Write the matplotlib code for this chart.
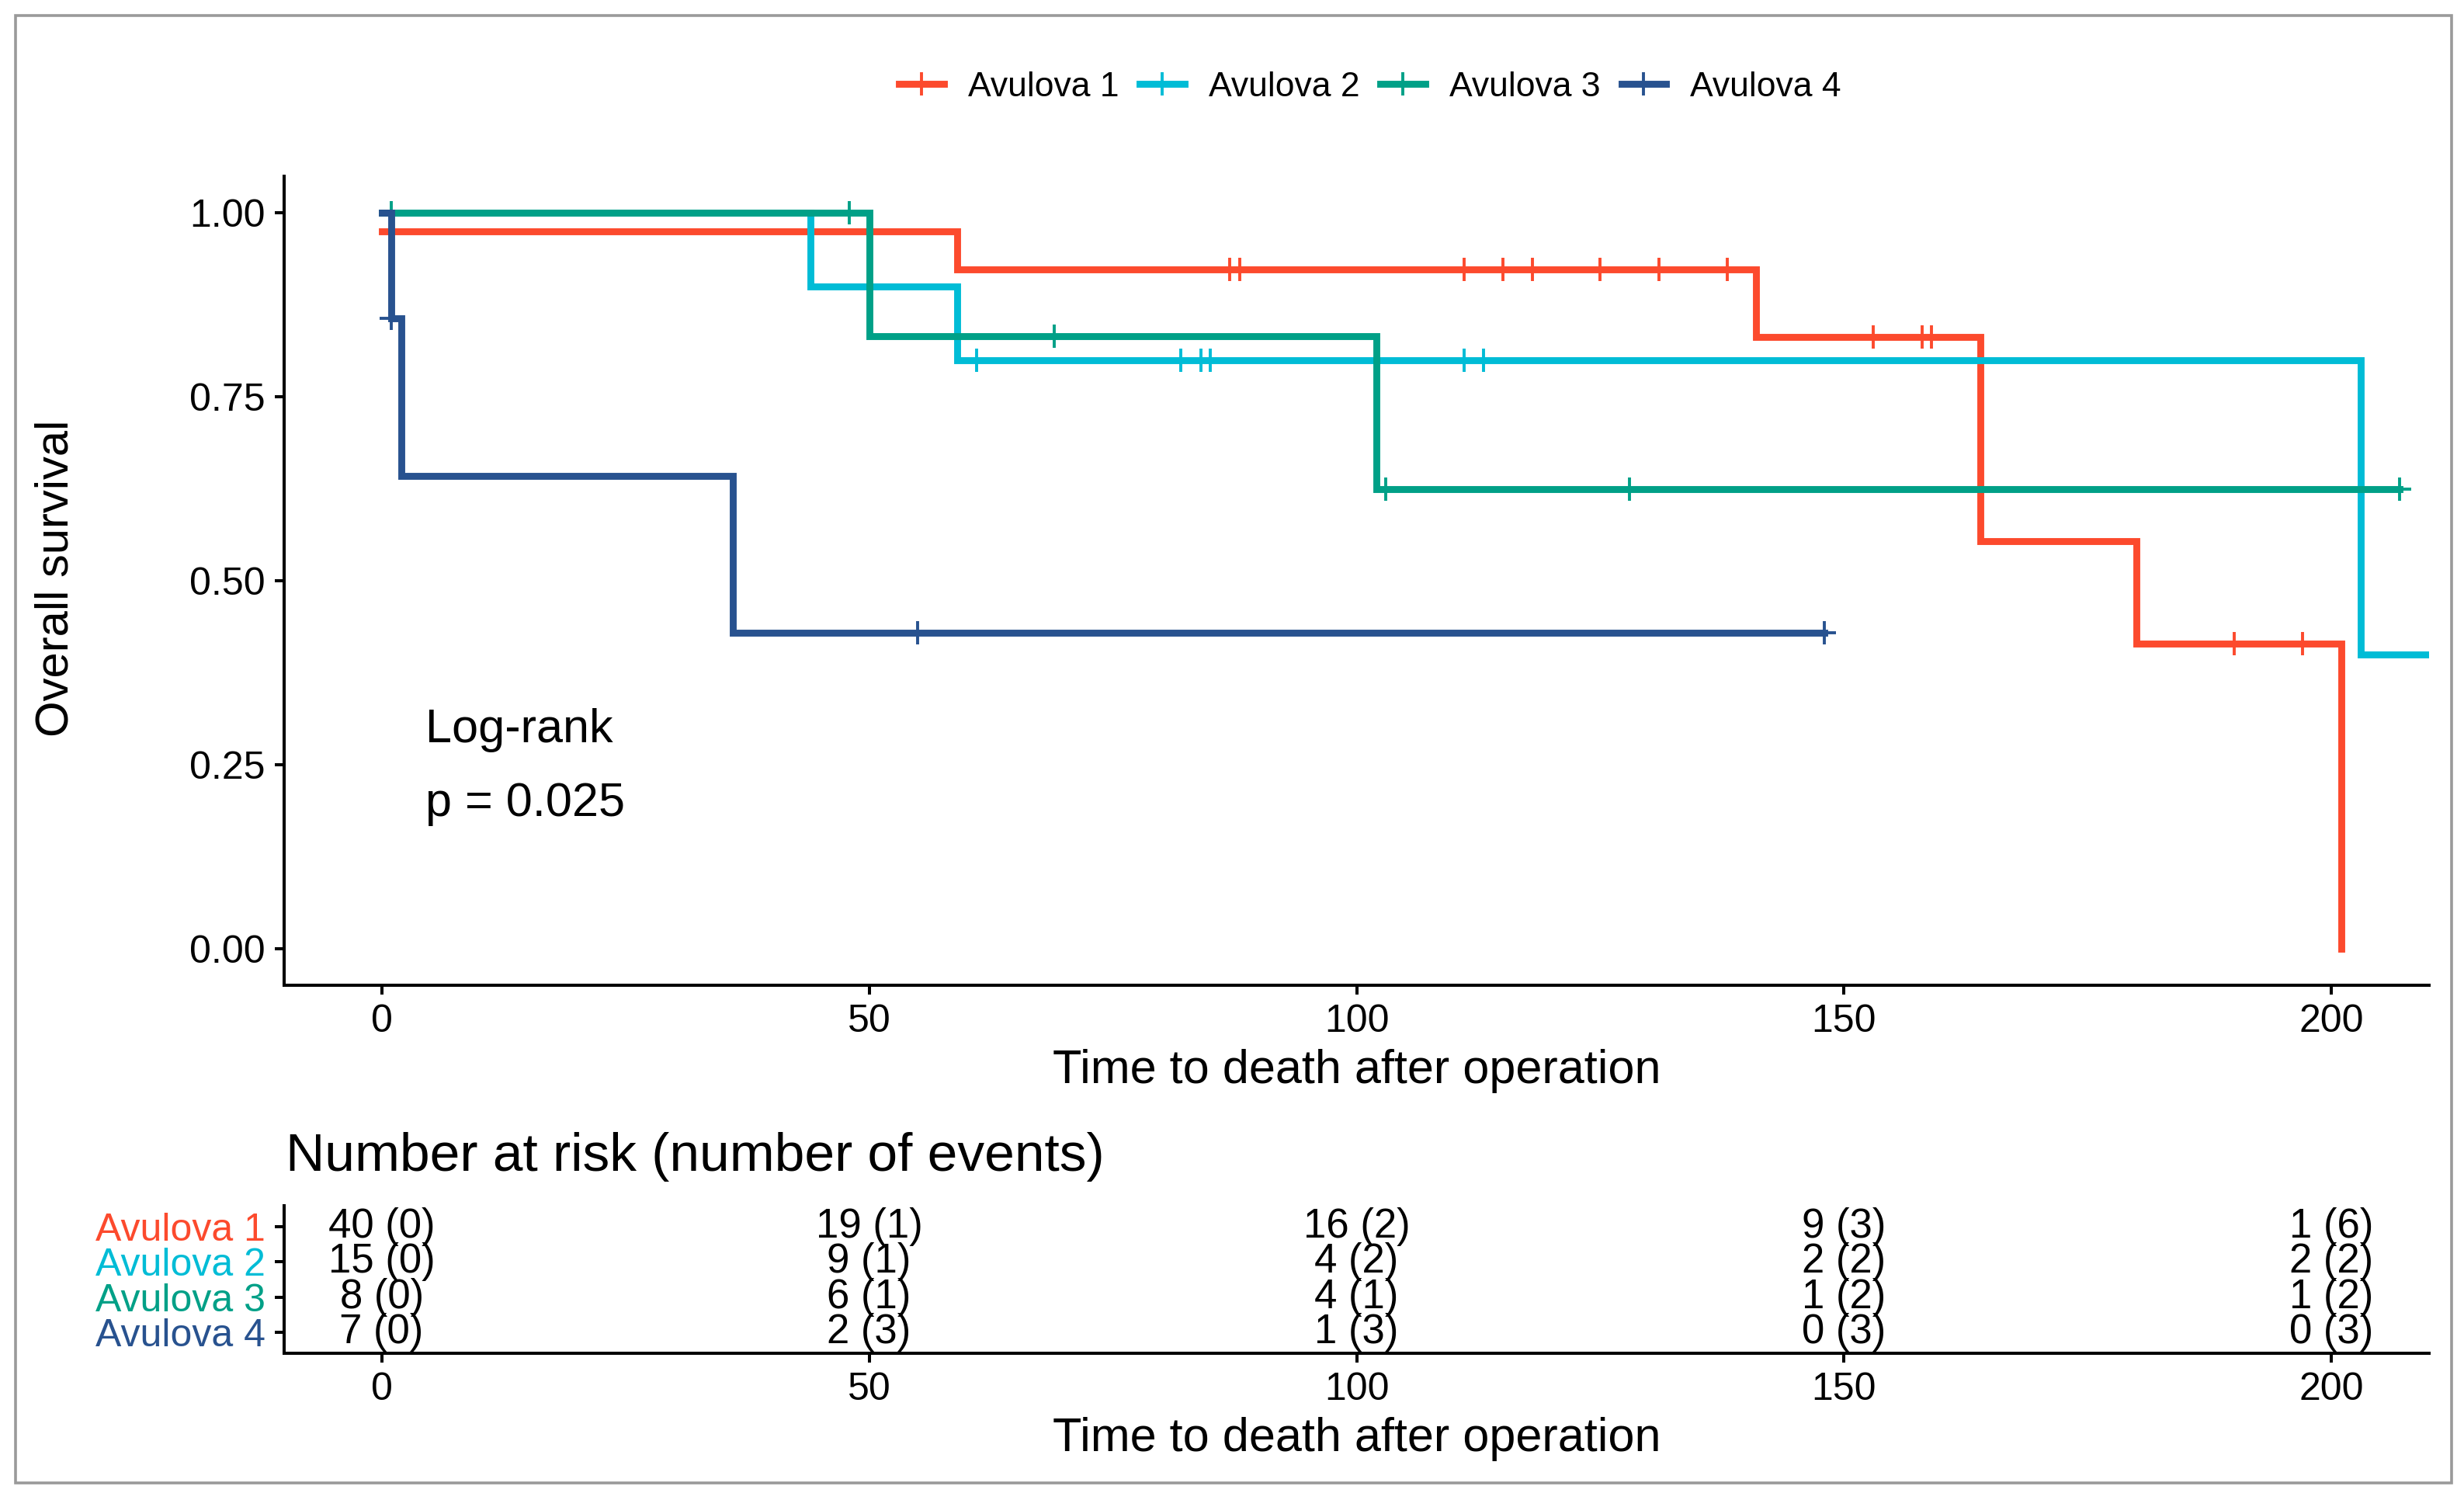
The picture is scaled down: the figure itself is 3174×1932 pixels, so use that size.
"""
Kaplan-Meier survival curves by Avulova group, with number-at-risk table
"""
import numpy as np
import matplotlib
matplotlib.use('Agg')
import matplotlib.pyplot as plt
from matplotlib.lines import Line2D
from matplotlib.patches import Rectangle

plt.rcParams['font.family'] = ['Liberation Sans', 'DejaVu Sans']

groups = ['Avulova 1', 'Avulova 2', 'Avulova 3', 'Avulova 4']
colors = ['#FC4A2D', '#00BCD6', '#00A087', '#28528F']

# step curves: time of each step, survival from that time on (last = end of follow-up)
a1_time = [0, 59, 141, 164, 180, 201]
a1_surv = [0.975, 0.923, 0.831, 0.554, 0.415, 0.0]
a1_cens = [1, 87, 88, 111, 115, 118, 125, 131, 138, 153, 158, 159, 190, 197]

a2_time = [0, 44, 59, 203, 211]
a2_surv = [1.0, 0.9, 0.8, 0.4, 0.4]
a2_cens = [61, 82, 84, 85, 111, 113]

a3_time = [0, 50, 102, 207]
a3_surv = [1.0, 0.833, 0.625, 0.625]
a3_cens = [1, 48, 69, 103, 128, 207]

a4_time = [0, 1, 2, 36, 148]
a4_surv = [1.0, 0.857, 0.643, 0.429, 0.429]
a4_cens = [1, 55, 148]

# number at risk (number of events)
risk_times = [0, 50, 100, 150, 200]
a1_atrisk = [40, 19, 16, 9, 1]
a1_events = [0, 1, 2, 3, 6]
a2_atrisk = [15, 9, 4, 2, 2]
a2_events = [0, 1, 2, 2, 2]
a3_atrisk = [8, 6, 4, 1, 1]
a3_events = [0, 1, 1, 2, 2]
a4_atrisk = [7, 2, 1, 0, 0]
a4_events = [0, 3, 3, 3, 3]

pval_text = 'p = 0.025'

curves = [(a1_time, a1_surv, a1_cens), (a2_time, a2_surv, a2_cens),
          (a3_time, a3_surv, a3_cens), (a4_time, a4_surv, a4_cens)]
risk = [(a1_atrisk, a1_events), (a2_atrisk, a2_events),
        (a3_atrisk, a3_events), (a4_atrisk, a4_events)]

W, H = 3174, 1932
fig = plt.figure(figsize=(W / 200, H / 200), dpi=200)

def fx(px):
    return px / W

def fy(px):
    return 1 - px / H

LW = 3.2
AX_LW = 1.45
TICK = 18

ax = fig.add_axes([fx(366), fy(1269), fx(3129) - fx(366), fy(227) - fy(1269)])
for (t, s, c), col in zip(curves, colors):
    t = np.array(t, dtype=float)
    s = np.array(s, dtype=float)
    ax.step(t, s, where='post', color=col, lw=LW, solid_joinstyle='miter')
    idx = np.searchsorted(t, c, side='right') - 1
    ax.plot(c, s[idx], linestyle='none', marker='+', ms=11, mew=1.4, color=col)

ax.set_xlim(-10, 210)
ax.set_ylim(-0.05, 1.05)
ax.set_xticks(risk_times)
ax.set_yticks([0, 0.25, 0.5, 0.75, 1.0])
ax.set_yticklabels(['0.00', '0.25', '0.50', '0.75', '1.00'])
for sp in ['top', 'right']:
    ax.spines[sp].set_visible(False)
for sp in ['left', 'bottom']:
    ax.spines[sp].set_linewidth(AX_LW)
ax.tick_params(labelsize=TICK, width=AX_LW, length=4.3, pad=4.5)
ax.set_xlabel('Time to death after operation', fontsize=22, labelpad=4)

ax.text(4.5, 0.297, 'Log-rank', fontsize=22, va='center', ha='left')
ax.text(4.5, 0.197, pval_text, fontsize=22, va='center', ha='left')

fig.text(fx(72), fy(745), 'Overall survival', rotation=90, fontsize=21.5,
         ha='center', va='center')

# legend on top
handles = [Line2D([0], [0], color=c, lw=LW, marker='+', ms=11, mew=1.4) for c in colors]
fig.legend(handles, groups, loc='center', bbox_to_anchor=(fx(1765), fy(112)),
           ncol=4, frameon=False, fontsize=16, handlelength=1.3,
           handletextpad=0.7, columnspacing=0.6)

# risk table
rt = fig.add_axes([fx(366), fy(1743), fx(3129) - fx(366), fy(1553) - fy(1743)])
ypos = [4, 3, 2, 1]
for (n, e), y in zip(risk, ypos):
    for t, ni, ei in zip(risk_times, n, e):
        rt.text(t, y, f'{ni} ({ei})', ha='center', va='center', fontsize=19)
rt.set_xlim(-10, 210)
rt.set_ylim(0.4, 4.6)
rt.set_xticks(risk_times)
rt.set_yticks(ypos)
rt.set_yticklabels(groups)
for lbl, c in zip(rt.get_yticklabels(), colors):
    lbl.set_color(c)
for sp in ['top', 'right']:
    rt.spines[sp].set_visible(False)
for sp in ['left', 'bottom']:
    rt.spines[sp].set_linewidth(AX_LW)
rt.tick_params(labelsize=TICK, width=AX_LW, length=4.3, pad=4.5)
rt.set_xlabel('Time to death after operation', fontsize=22, labelpad=4)
fig.text(fx(368), fy(1490), 'Number at risk (number of events)', fontsize=25,
         ha='left', va='center')

# outer frame
fig.patches.append(Rectangle((fx(20), fy(1910)), fx(3158) - fx(20), fy(20) - fy(1910),
                             transform=fig.transFigure, fill=False,
                             edgecolor='#9a9a9a', lw=1.3))

fig.savefig('out.png', dpi=200, facecolor='white')
